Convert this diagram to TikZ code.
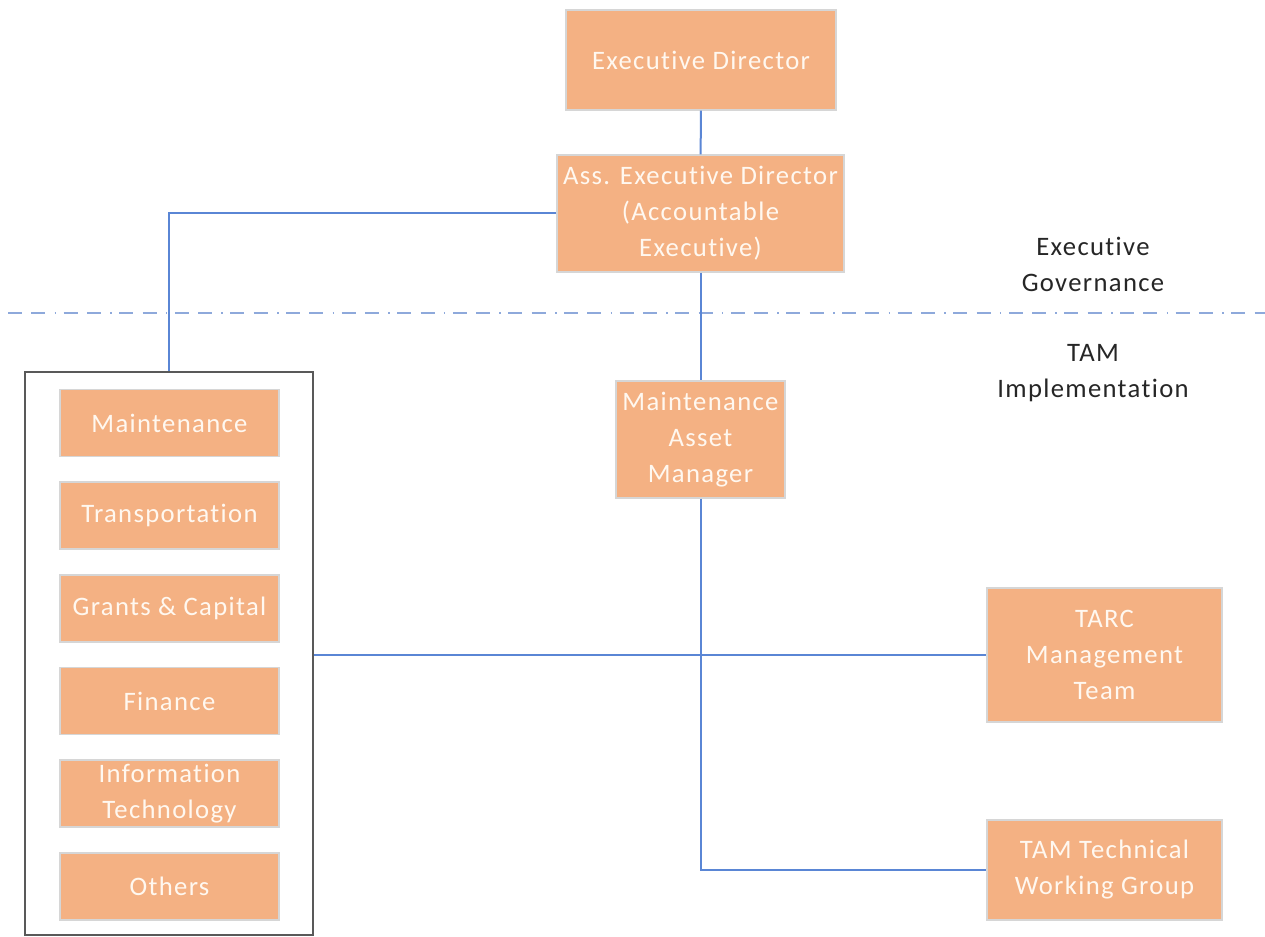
\documentclass[tikz,border=0pt]{standalone}
\usepackage{fontspec}
\setmainfont{Carlito}[LetterSpace=5, Ligatures=NoCommon, RawFeature=-liga]
\definecolor{boxfill}{HTML}{F4B183}
\definecolor{boxedge}{HTML}{D6D6D6}
\definecolor{boxtext}{HTML}{FFF8F0}
\definecolor{linkblue}{HTML}{5A86D5}
\definecolor{splitblue}{HTML}{8EA9DB}
\definecolor{groupedge}{HTML}{595959}
\definecolor{labeltext}{HTML}{262626}
\tikzset{
  orgbox/.style={fill=boxfill, draw=boxedge, line width=0.8pt, text=boxtext,
    align=center, inner sep=0pt, font=\fontsize{20}{27}\selectfont},
  link/.style={draw=linkblue, line width=1.5pt},
  split/.style={draw=splitblue, line width=1.5pt,
    dash pattern=on 10.5pt off 7pt on 10.5pt off 7pt on 1.2pt off 5.5pt},
  grouping/.style={draw=groupedge, line width=1.5pt, inner sep=0pt},
  zone/.style={text=labeltext, align=center, font=\fontsize{20}{27}\selectfont}
}
\begin{document}
\begin{tikzpicture}[x=0.75pt,y=-0.75pt]
\useasboundingbox (0,0) rectangle (1265,937);

% governance chain
\node[orgbox, minimum width=270*0.75pt, minimum height=100*0.75pt] (ed) at (701,60) {Executive Director};
\node[orgbox, minimum width=287*0.75pt, minimum height=117*0.75pt] (aed) at (700.5,213.5)
  {Ass. Executive Director\\(Accountable\\Executive)};

% boundary between governance and implementation
\coordinate (splitL) at (8,313);
\coordinate (splitR) at (1265,313);
\draw[split] (splitL) -- (splitR);
\node[zone] (govlbl) at (1093,264) {Executive\\Governance};
\node[zone] (implbl) at (1093,373) {TAM\\Implementation};

% departments group
\node[grouping, minimum width=288*0.75pt, minimum height=563*0.75pt] (grp) at (169,653.5) {};
\foreach \name/\yc/\txt in {mnt/423/Maintenance, trn/515.5/Transportation,
    grc/608.5/Grants \& Capital, fin/701/Finance,
    it/793.5/{Information\\Technology}, oth/886.5/Others}
  \node[orgbox, minimum width=219*0.75pt, minimum height=67*0.75pt] (\name) at (169.5,\yc) {\txt};

% implementation roles
\node[orgbox, minimum width=169*0.75pt, minimum height=117*0.75pt] (mam) at (700.5,439.5)
  {Maintenance\\Asset\\Manager};
\node[orgbox, minimum width=235*0.75pt, minimum height=134*0.75pt] (tarc) at (1104.5,655)
  {TARC\\Management\\Team};
\node[orgbox, minimum width=235*0.75pt, minimum height=100*0.75pt] (twg) at (1104.5,870)
  {TAM Technical\\Working Group};

% reporting lines
\draw[link] (ed) -- (aed);
\draw[link] (aed) -- (mam);
\draw[link] (aed.west) -| (grp.north);
\draw[link] (mam.south) |- (twg.west);
\draw[link] (grp.east |- tarc.west) -- (tarc.west);
\end{tikzpicture}
\end{document}
